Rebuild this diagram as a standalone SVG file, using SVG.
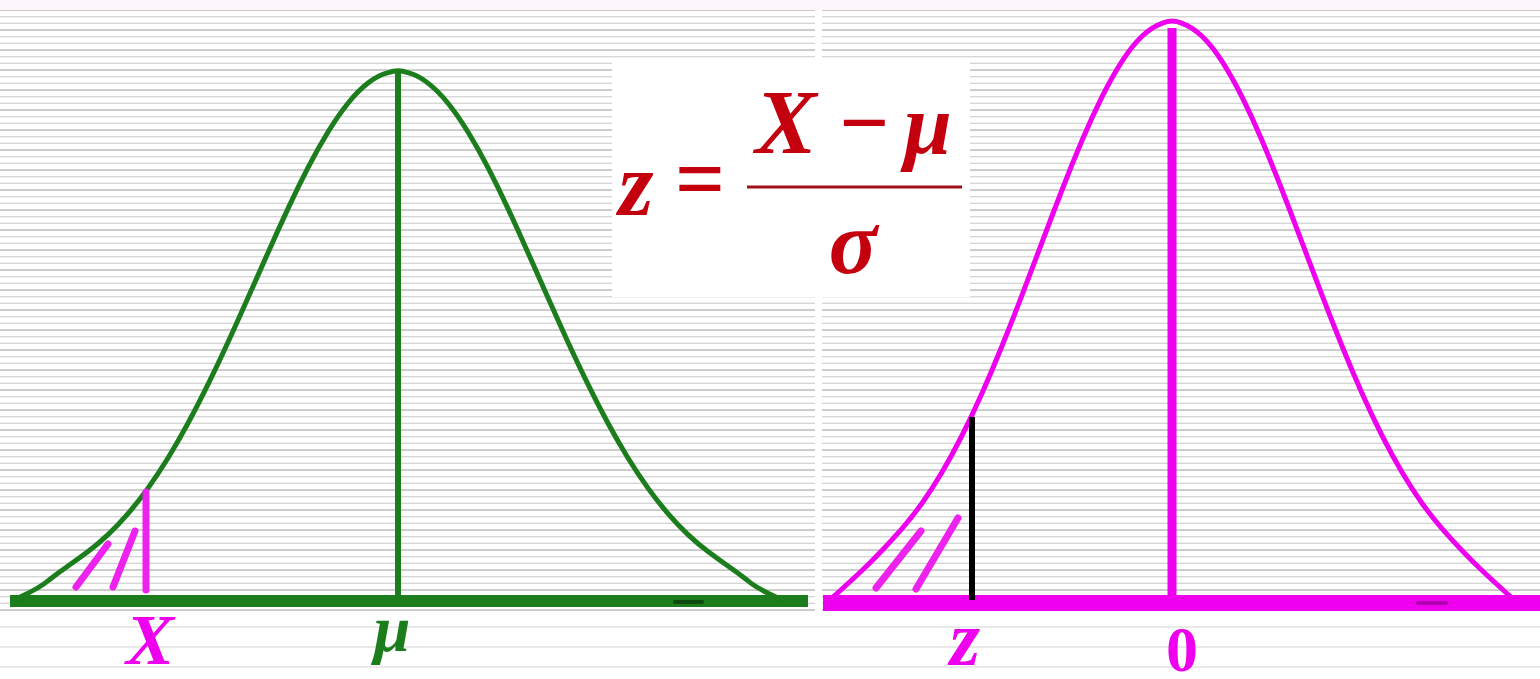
<svg xmlns="http://www.w3.org/2000/svg" width="1540" height="679" viewBox="0 0 1540 679">
  <defs>
    <pattern id="stripes" patternUnits="userSpaceOnUse" x="0" y="0" width="20" height="20">
      <rect x="0" y="2.6" width="20" height="1.4" fill="#d6d6d6"/>
      <rect x="0" y="9.3" width="20" height="1.5" fill="#bcbcbc"/>
      <rect x="0" y="16" width="20" height="1.4" fill="#d6d6d6"/>
    </pattern>
    <style>
      .lbl { font-family: "Liberation Serif", "Times New Roman", serif; font-weight: bold; }
      .it { font-style: italic; }
      .red { fill: #c4000f; }
      .mag { fill: #ee00ee; }
      .grn { fill: #1b7d1b; }
      .curve { fill: none; stroke-width: 5; stroke-linejoin: round; stroke-linecap: round; }
      .mark { stroke: #ee22ee; stroke-width: 7; stroke-linecap: round; fill: none; }
    </style>
  </defs>

  <g id="background">
    <rect x="0" y="0" width="1540" height="679" fill="#ffffff"/>
    <rect x="0" y="0" width="1540" height="10" fill="#fdf6fd"/>
    <rect x="0" y="10" width="815" height="602" fill="url(#stripes)"/>
    <rect x="822" y="10" width="718" height="602" fill="url(#stripes)"/>
    <g stroke="#e2e2e2" stroke-width="1.4">
      <line x1="0" y1="627" x2="1540" y2="627"/>
      <line x1="0" y1="647" x2="1540" y2="647"/>
      <line x1="0" y1="667" x2="1540" y2="667"/>
    </g>
  </g>

  <g id="formula">
    <rect x="612" y="62" width="358" height="235" fill="#ffffff"/>
    <text class="lbl it red" x="636" y="215" font-size="90" text-anchor="middle">z</text>
    <text class="lbl red" x="700" y="209" font-size="88" text-anchor="middle">=</text>
    <text class="lbl it red" x="786" y="153" font-size="92" text-anchor="middle">X</text>
    <text class="lbl red" x="864" y="152" font-size="88" text-anchor="middle">−</text>
    <text class="lbl it red" x="928" y="153" font-size="86" text-anchor="middle">μ</text>
    <line x1="747" y1="187" x2="962" y2="187" stroke="#a0101a" stroke-width="3"/>
    <text class="lbl it red" x="853" y="273" font-size="90" text-anchor="middle">σ</text>
  </g>

  <g id="left-distribution">
    <line x1="10" y1="601" x2="808" y2="601" stroke="#1b7d1b" stroke-width="12"/>
    <line x1="675" y1="602" x2="702" y2="602" stroke="#0f4a0f" stroke-width="4" stroke-linecap="round"/>
    <path class="curve" stroke="#1b7d1b" d="M 18,598 Q 40,588 49,580 Q 58,573 68,566 Q 78,559 88,551.5 Q 98,544 108,534.6 Q 118,525.2 128,513.6 Q 138,502 148,488.1 Q 158,474.2 168,458 Q 178,441.7 188,423.3 Q 198,404.8 208,384.4 Q 218,364 228,342.2 Q 238,320.3 248,297.8 Q 258,275.2 268,252.7 Q 278,230.1 288,208.6 Q 298,187.1 308,167.7 Q 318,148.3 328,132 Q 338,115.6 348,103.2 Q 358,90.8 368,83.1 Q 378,75.3 388,72.7 Q 398,68.7 408,72.7 Q 418,75.3 428,83.1 Q 438,90.8 448,103.2 Q 458,115.6 468,132 Q 478,148.3 488,167.7 Q 498,187.1 508,208.6 Q 518,230.1 528,252.7 Q 538,275.2 548,297.8 Q 558,320.3 568,342.2 Q 578,364 588,384.4 Q 598,404.8 608,423.3 Q 618,441.7 628,458 Q 638,474.2 648,488.1 Q 658,502 668,513.6 Q 678,525.2 688,534.6 Q 698,544 708,551.5 Q 718,559 728,566 Q 738,573 747,580 Q 756,588 778,598"/>
    <line x1="398" y1="70" x2="398" y2="600" stroke="#1b7d1b" stroke-width="6"/>
    <line class="mark" x1="146" y1="492" x2="146" y2="590"/>
    <line class="mark" x1="76" y1="587" x2="108" y2="544"/>
    <line class="mark" x1="113" y1="587" x2="135" y2="531"/>
    <text class="lbl it mag" x="150" y="664" font-size="72" text-anchor="middle">X</text>
    <text class="lbl it grn" x="392" y="651" font-size="66" text-anchor="middle">μ</text>
  </g>

  <g id="right-distribution">
    <line x1="823" y1="603" x2="1540" y2="603" stroke="#ee00ee" stroke-width="16"/>
    <line x1="1418" y1="603" x2="1446" y2="603" stroke="#b000b0" stroke-width="4" stroke-linecap="round"/>
    <path class="curve" stroke="#ee00ee" d="M 832,598 Q 852,580 862,570.5 Q 872,561 882,550.5 Q 892,540 902,528.6 Q 912,517.1 922,503.2 Q 932,489.2 942,472.3 Q 952,455.3 962,435.5 Q 972,415.7 982,393.2 Q 992,370.7 1002,346 Q 1012,321.3 1022,295.2 Q 1032,269 1042,242.4 Q 1052,215.8 1062,190 Q 1072,164.2 1082,140.6 Q 1092,117 1102,96.9 Q 1112,76.7 1122,61.3 Q 1132,45.9 1142,36.3 Q 1152,26.6 1162,23.3 Q 1172,18.5 1182,23.3 Q 1192,26.6 1202,36.3 Q 1212,45.9 1222,61.3 Q 1232,76.7 1242,96.9 Q 1252,117 1262,140.6 Q 1272,164.2 1282,190 Q 1292,215.8 1302,242.4 Q 1312,269 1322,295.2 Q 1332,321.3 1342,346 Q 1352,370.7 1362,393.2 Q 1372,415.7 1382,435.5 Q 1392,455.3 1402,472.3 Q 1412,489.2 1422,503.2 Q 1432,517.1 1442,528.6 Q 1452,540 1462,550.5 Q 1472,561 1482,570.5 Q 1492,580 1512,598"/>
    <line x1="1172" y1="28" x2="1172" y2="600" stroke="#ee00ee" stroke-width="9"/>
    <line class="mark" x1="876" y1="588" x2="921" y2="531"/>
    <line class="mark" x1="916" y1="589" x2="958" y2="518"/>
    <line x1="972" y1="417" x2="972" y2="600" stroke="#000000" stroke-width="6"/>
    <text class="lbl it mag" x="965" y="665" font-size="78" text-anchor="middle">z</text>
    <text class="lbl mag" x="1182" y="671" font-size="64" text-anchor="middle">0</text>
  </g>
</svg>
